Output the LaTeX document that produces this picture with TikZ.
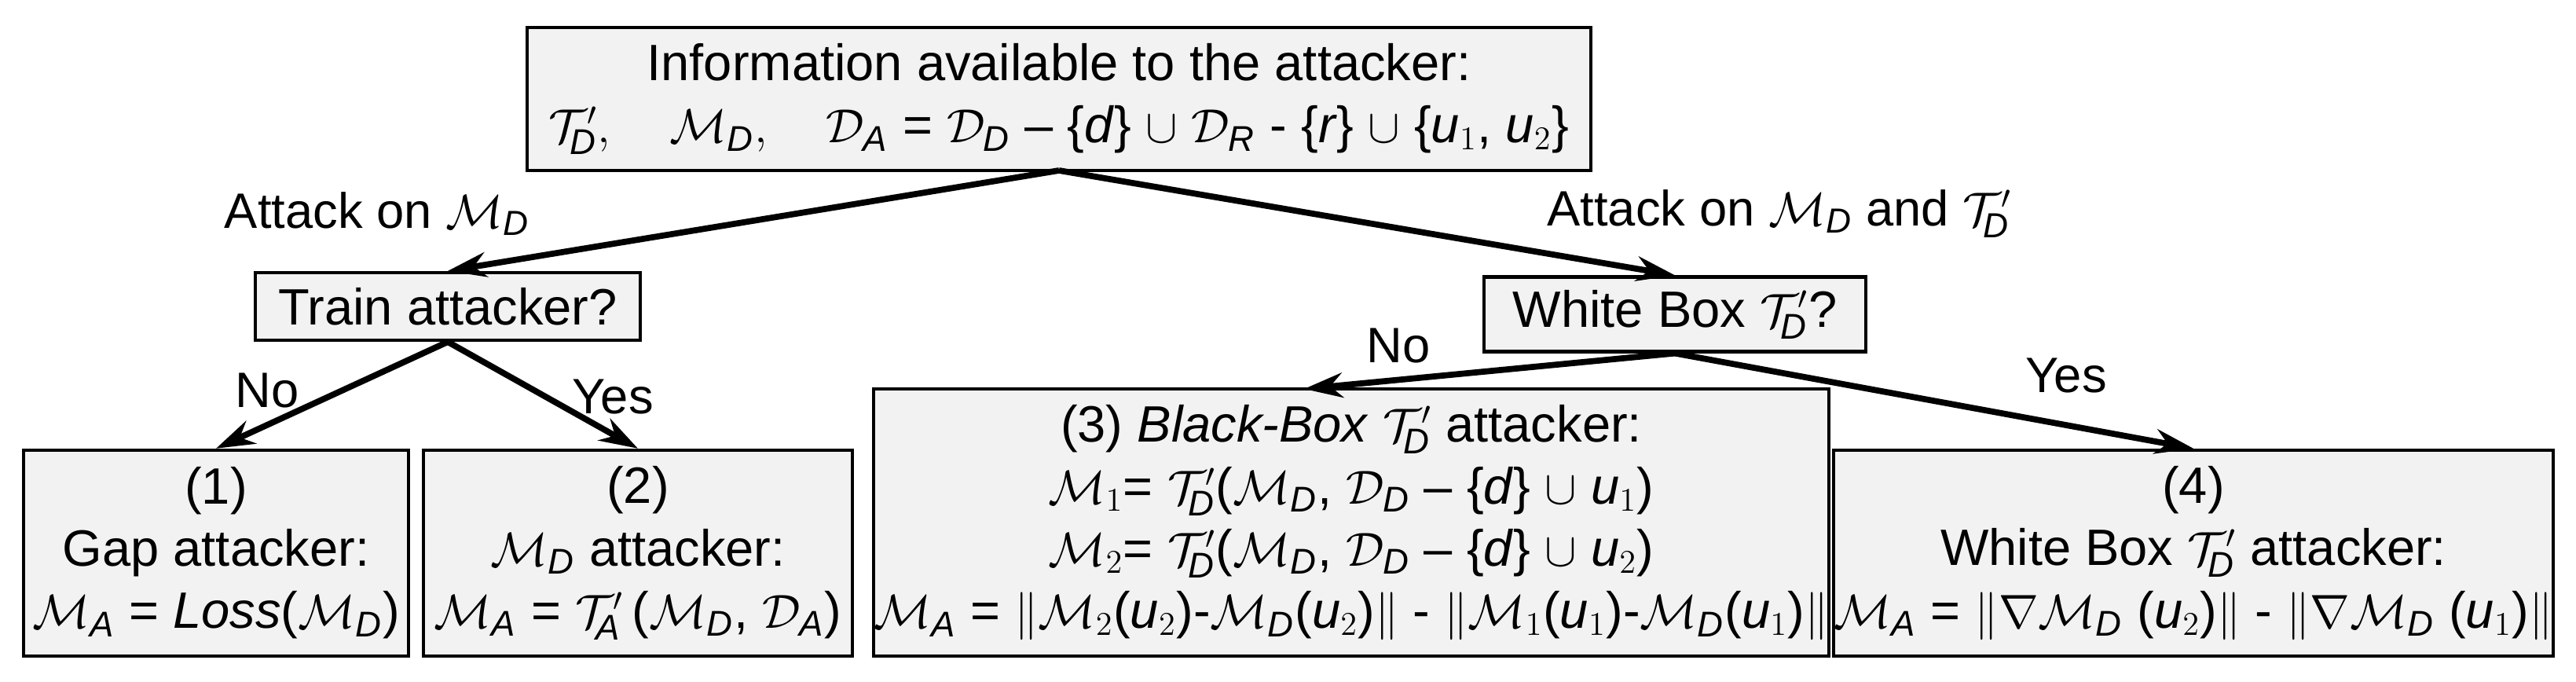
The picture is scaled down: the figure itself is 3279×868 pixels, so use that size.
\documentclass[tikz,border=0pt]{standalone}
\usepackage{fontspec}
\setmainfont{Liberation Sans}
\usetikzlibrary{arrows.meta}
\newcommand{\Tp}{\mathcal{T}'_{\!\mathit{D}}}
\newcommand{\MD}{\mathcal{M}_{\mathit{D}}}
\newcommand{\DD}{\mathcal{D}_{\mathit{D}}}
\begin{document}
\begin{tikzpicture}[x=0.01cm,y=-0.01cm,
  box/.style={draw,line width=1.2pt,fill=black!5,align=center,inner sep=0pt,
    font=\fontsize{18.5}{22.5}\selectfont},
  lab/.style={font=\fontsize{18}{21}\selectfont},
  arr/.style={-{Stealth[length=14pt,width=9pt]},line width=2.2pt}]
\useasboundingbox (0,0) rectangle (3279,868);
\node[box,minimum width=13.53cm,minimum height=1.82cm] (top) at (1348,126)
 {Information available to the attacker:\\
 $\Tp,\quad \MD,\quad \mathcal{D}_{\mathit{A}}$ = $\DD$ -- \{\textit{d}\} $\cup$ $\mathcal{D}_{\mathit{R}}$ - \{\textit{r}\} $\cup$ \{\textit{u}$_1$, \textit{u}$_2$\}};
\node[box,minimum width=4.9cm,minimum height=0.86cm] (train) at (570,390) {Train attacker?};
\node[box,minimum width=4.85cm,minimum height=0.95cm] (wb) at (2132,400) {White Box $\Tp$?};
\node[box,minimum width=4.9cm,minimum height=2.62cm] (b1) at (275,704)
 {(1)\\Gap attacker:\\$\mathcal{M}_{\mathit{A}}$ = \textit{Loss}($\MD$)};
\node[box,minimum width=5.45cm,minimum height=2.62cm] (b2) at (812,704)
 {(2)\\$\MD$ attacker:\\$\mathcal{M}_{\mathit{A}}$ = $\mathcal{T}'_{\!\mathit{A}}$\,($\MD$, $\mathcal{D}_{\mathit{A}}$)};
\node[box,minimum width=11.9cm,minimum height=3.4cm] (b3) at (1720,665)
 {(3) \textit{Black-Box} $\Tp$ attacker:\\
 $\mathcal{M}_{1}$= $\Tp$($\MD$, $\DD$ -- \{\textit{d}\} $\cup$ \textit{u}$_1$)\\
 $\mathcal{M}_{2}$= $\Tp$($\MD$, $\DD$ -- \{\textit{d}\} $\cup$ \textit{u}$_2$)\\
 $\mathcal{M}_{\mathit{A}}$ = $\|\mathcal{M}_2$(\textit{u}$_2$)-$\MD$(\textit{u}$_2$)$\|$ - $\|\mathcal{M}_1$(\textit{u}$_1$)-$\MD$(\textit{u}$_1$)$\|$};
\node[box,minimum width=9.15cm,minimum height=2.62cm] (b4) at (2792,704)
 {(4)\\White Box $\Tp$ attacker:\\
 $\mathcal{M}_{\mathit{A}}$ = $\|\nabla\MD$ (\textit{u}$_2$)$\|$ - $\|\nabla\MD$ (\textit{u}$_1$)$\|$};
\coordinate (tc) at (1348,217);
\coordinate (b3t) at (1660,495);
\draw[arr] (tc) -- (train.north);
\draw[arr] (tc) -- (wb.north);
\draw[arr] (train.south) -- (b1.north);
\draw[arr] (train.south) -- (b2.north);
\draw[arr] (wb.south) -- (b3t);
\draw[arr] (wb.south) -- (b4.north);
\node[lab] (l1) at (480,272) {Attack on $\MD$};
\node[lab] (l2) at (2265,272) {Attack on $\MD$ and $\Tp$};
\node[lab] (l3) at (340,497) {No};
\node[lab] (l4) at (780,505) {Yes};
\node[lab] (l5) at (1780,440) {No};
\node[lab] (l6) at (2630,478) {Yes};
\end{tikzpicture}
\end{document}
